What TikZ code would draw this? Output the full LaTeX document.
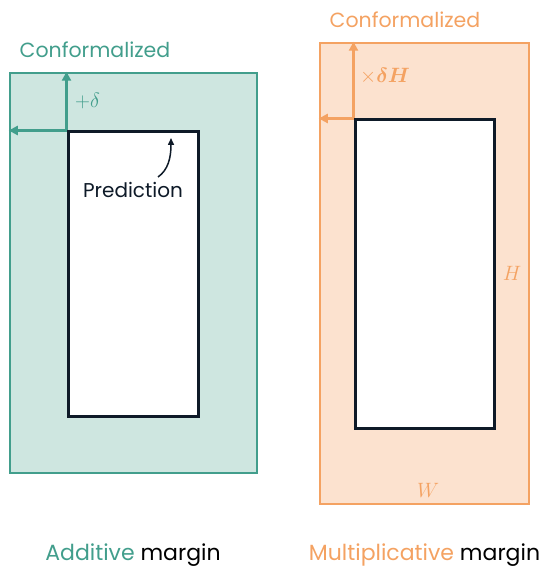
\documentclass[tikz,border=0pt]{standalone}
\usepackage{amsmath}
\usepackage{fontspec}
\setmainfont{Poppins}
\usetikzlibrary{arrows.meta}
\definecolor{teal}{RGB}{66,158,140}
\definecolor{tealfill}{RGB}{206,230,224}
\definecolor{peach}{RGB}{244,162,98}
\definecolor{peachfill}{RGB}{252,226,207}
\definecolor{navy}{RGB}{14,26,40}

\begin{document}
\begin{tikzpicture}[x=1pt, y=-1pt, >={Triangle[length=9pt,width=9pt]},
	outerbox/.style={draw, rectangle, line width=2.5pt, inner sep=0pt},
	predbox/.style={draw=navy, fill=white, rectangle, line width=3pt, inner sep=0pt},
	margin/.style={line width=2.8pt, ->},
	title/.style={font=\fontsize{20.5}{24}\selectfont},
	caption/.style={font=\fontsize{22}{26}\selectfont},
	mathlabel/.style={font=\fontsize{21}{25}\selectfont}]
	\useasboundingbox (0,0) rectangle (545,569);

	% additive margin
	\node[outerbox, teal, fill=tealfill, minimum width=247pt, minimum height=400pt] (confA) at (133.5,273) {};
	\node[predbox, minimum width=130pt, minimum height=284pt] (predA) at (133,274) {};
	\draw[margin, teal] (predA.north west) -- node[right, mathlabel, xshift=4pt] {$+\delta$} (predA.north west |- confA.north);
	\draw[margin, teal] (predA.north west) -- (confA.west |- predA.north);
	\node[teal, title] (titleA) at (95,50) {Conformalized};
	\node[navy, font=\fontsize{20}{24}\selectfont] (predlabel) at (133,190) {Prediction};
	\coordinate (predtip) at (171,138);
	\draw[navy, line width=1.5pt, -{Triangle[length=7pt,width=6pt]}] (158,177) .. controls (168,170) and (171,158) .. (predtip);
	\node[caption] (labelA) at (133,555) {\textcolor{teal}{Additive} margin};

	% multiplicative margin
	\node[outerbox, peach, fill=peachfill, minimum width=209pt, minimum height=461pt] (confM) at (424.5,273.5) {};
	\node[predbox, minimum width=139pt, minimum height=308pt] (predM) at (424.5,274) {};
	\draw[margin, peach] (predM.north west) -- node[right, mathlabel, xshift=2pt, yshift=4pt] {$\times\boldsymbol{\delta H}$} (predM.north west |- confM.north);
	\draw[margin, peach] (predM.north west) -- (confM.west |- predM.north);
	\node[peach, mathlabel] (Hlabel) at (512,273) {$H$};
	\node[peach, mathlabel] (Wlabel) at (428,490) {$W$};
	\node[peach, title] (titleM) at (405,20) {Conformalized};
	\node[caption] (labelM) at (424.5,555) {\textcolor{peach}{Multiplicative} margin};
\end{tikzpicture}
\end{document}
